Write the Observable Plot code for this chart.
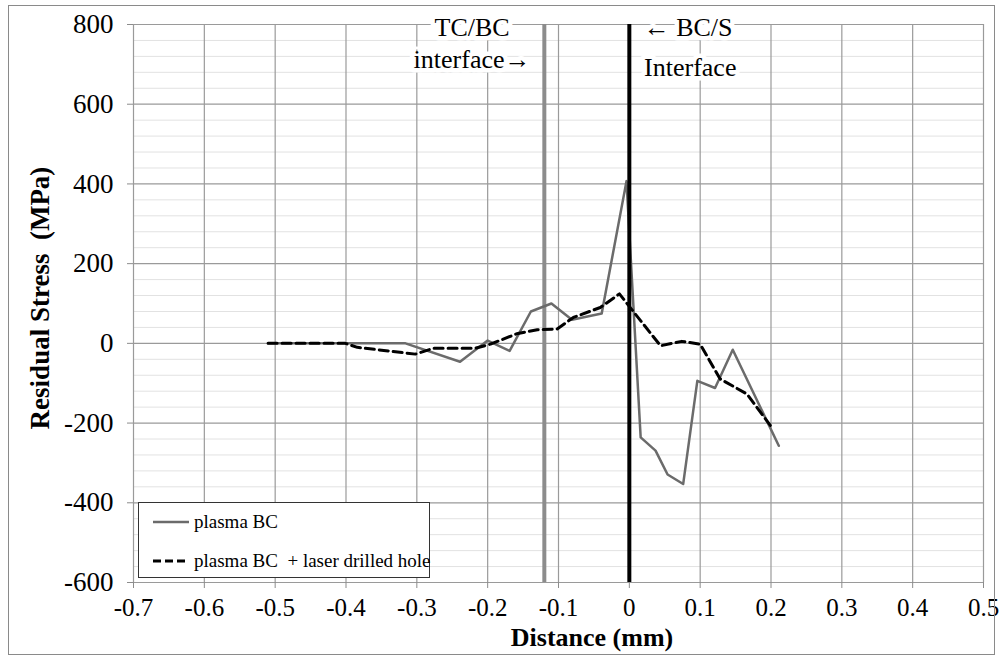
<!DOCTYPE html>
<html>
<head>
<meta charset="utf-8">
<script src="https://cdn.jsdelivr.net/npm/d3@7"></script>
<script src="https://cdn.jsdelivr.net/npm/@observablehq/plot@0.6"></script>
<style>
  html, body { margin: 0; padding: 0; background: #fff; }
  #wrap { position: relative; width: 1000px; height: 662px; overflow: hidden; font-family: "Liberation Serif", serif; }
  #border { position: absolute; left: 8px; top: 5px; width: 987px; height: 650px; border: 1px solid #8a8a8a; box-sizing: border-box; pointer-events: none; }
  #chart { position: absolute; left: 0; top: 0; }
  .title { position: absolute; font-weight: bold; font-size: 26px; line-height: 1; color: #000; white-space: nowrap; }
  #xtitle { left: 592px; top: 625px; transform: translateX(-50%); }
  #ytitle { left: 40px; top: 298px; font-size: 27px; transform: translate(-50%, -50%) rotate(-90deg); }
  #legend { position: absolute; left: 138px; top: 502px; width: 292px; height: 76px; border: 1.5px solid #333; background: #fff; box-sizing: border-box; font-size: 19px; }
  .entry { position: absolute; left: 14px; display: flex; align-items: center; white-space: nowrap; }
  .entry svg { margin-right: 5px; }
</style>
</head>
<body>
<div id="wrap">
  <div id="chart"></div>
  <div id="border"></div>
  <div id="xtitle" class="title">Distance (mm)</div>
  <div id="ytitle" class="title">Residual Stress&nbsp; (MPa)</div>
  <div id="legend">
    <div class="entry" style="top:8px;"><svg width="36" height="10"><line x1="0" y1="5" x2="36" y2="5" stroke="#6b6b6b" stroke-width="2.5"/></svg><span>plasma BC</span></div>
    <div class="entry" style="top:47px;"><svg width="36" height="10"><line x1="0" y1="5" x2="36" y2="5" stroke="#000" stroke-width="3" stroke-dasharray="8,4"/></svg><span>plasma BC&nbsp; + laser drilled hole</span></div>
  </div>
</div>
<script>
// Tick values / labels
const xTicks = [-0.7, -0.6, -0.5, -0.4, -0.3, -0.2, -0.1, 0, 0.1, 0.2, 0.3, 0.4, 0.5];
const yTicks = [-600, -400, -200, 0, 200, 400, 600, 800];
const yMinor = [-560, -520, -480, -440, -360, -320, -280, -240, -160, -120, -80, -40,
                40, 80, 120, 160, 240, 280, 320, 360, 440, 480, 520, 560, 640, 680, 720, 760];

// Series: plasma BC (solid grey)
const plasmaX = [-0.51, -0.40, -0.316, -0.239, -0.200, -0.169, -0.139, -0.110, -0.081, -0.039, -0.004, 0.016, 0.037, 0.054, 0.076, 0.096, 0.121, 0.146, 0.211];
const plasmaY = [0, 0, 0, -46, 7, -19, 80, 100, 59, 75, 407, -236, -269, -329, -353, -94, -112, -16, -257];

// Series: plasma BC + laser drilled hole (dashed black)
const laserX = [-0.51, -0.401, -0.384, -0.302, -0.276, -0.217, -0.196, -0.159, -0.130, -0.102, -0.079, -0.041, -0.014, 0.044, 0.074, 0.100, 0.128, 0.166, 0.199];
const laserY = [0, 0, -10, -27, -12, -12, -2, 24, 34, 36, 65, 90, 124, -6, 5, -2, -89, -127, -206];

// Interface markers
const tcbcX = [-0.12];
const bcsX = [0];

// Annotations
const noteText = ["TC/BC", "interface\u2192", "\u2190 BC/S", "Interface"];
const noteX = [-0.222, -0.222, 0.083, 0.086];
const noteY = [792, 712, 792, 692];

const plasma = plasmaX.map((x, i) => ({x, y: plasmaY[i]}));
const laser = laserX.map((x, i) => ({x, y: laserY[i]}));
const notes = noteText.map((t, i) => ({t, x: noteX[i], y: noteY[i]}));

const fmt = d => (d === 0 ? "0" : String(d));

const chart = Plot.plot({
  width: 1000,
  height: 662,
  marginLeft: 133,
  marginRight: 17,
  marginTop: 24,
  marginBottom: 80,
  x: {domain: [-0.7, 0.5]},
  y: {domain: [-600, 800]},
  style: {fontFamily: "Liberation Serif", fontSize: "26px", color: "#000", background: "transparent", overflow: "visible"},
  marks: [
    Plot.ruleY(yMinor, {stroke: "#e2e2e2", strokeWidth: 1}),
    Plot.ruleY(yTicks, {stroke: "#9a9a9a", strokeWidth: 1.2}),
    Plot.ruleX(xTicks, {stroke: "#9a9a9a", strokeWidth: 1.2}),
    Plot.text(notes, {x: "x", y: "y", text: "t", fontSize: 26, fill: "#000", stroke: "white", strokeWidth: 9, strokeLinejoin: "round"}),
    Plot.ruleX(tcbcX, {stroke: "#8c8c8c", strokeWidth: 4}),
    Plot.line(plasma, {x: "x", y: "y", stroke: "#6b6b6b", strokeWidth: 2.5}),
    Plot.line(laser, {x: "x", y: "y", stroke: "#000", strokeWidth: 3, strokeDasharray: "9,5"}),
    Plot.ruleX(bcsX, {stroke: "#000", strokeWidth: 4}),
    Plot.axisX({ticks: xTicks, tickFormat: fmt, tickSize: 6, tickPadding: 10, label: null, stroke: "#8c8c8c", fontSize: 25}),
    Plot.axisY({ticks: yTicks, tickFormat: fmt, tickSize: 6, tickPadding: 14, label: null, stroke: "#8c8c8c", fontSize: 27})
  ]
});
document.getElementById("chart").appendChild(chart);
</script>
</body>
</html>
